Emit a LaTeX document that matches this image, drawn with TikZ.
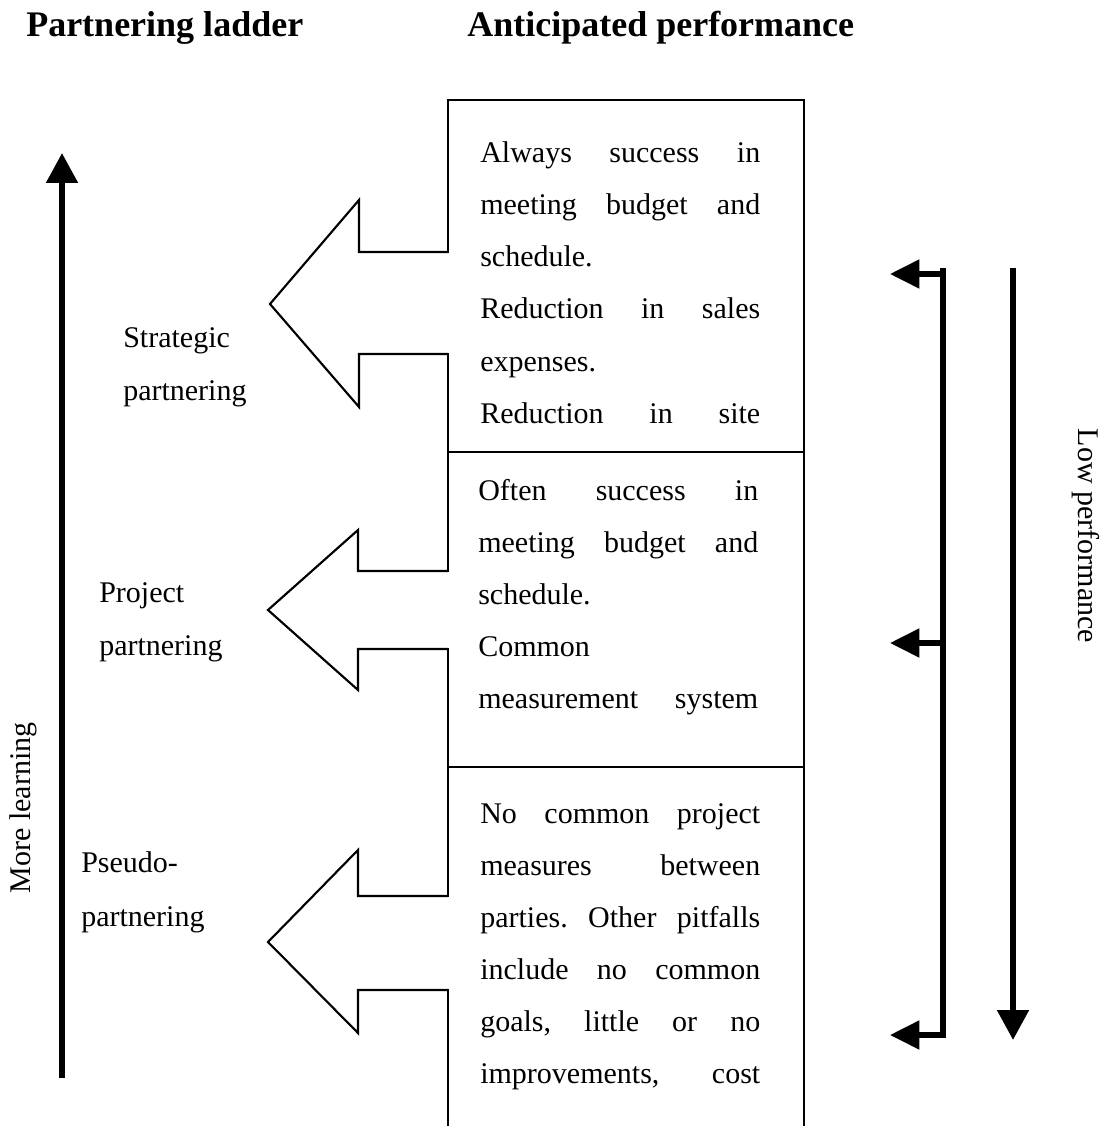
\documentclass[tikz,border=0pt]{standalone}
\usepackage{fontspec}
\setmainfont{Liberation Serif}
\usetikzlibrary{arrows.meta}
\frenchspacing
% one justified line of a fixed measure
\newcommand{\fullline}[1]{\makebox[210pt][s]{#1}}
\tikzset{
  bodytext/.style={font=\fontsize{22.5pt}{27pt}\selectfont, inner sep=0pt, anchor=base west},
  headtext/.style={font=\fontsize{27pt}{32pt}\selectfont\bfseries, inner sep=0pt, anchor=base west},
  sidetext/.style={font=\fontsize{22.5pt}{27pt}\selectfont, inner sep=0pt},
  frameline/.style={line width=1.6pt, line cap=rect},
  hollowarrow/.style={line width=1.6pt, line join=miter},
  heavyline/.style={line width=4.5pt},
  bigtip/.style={-{Triangle[length=22.5pt,width=23pt]}},
  smalltip/.style={line width=3.8pt, -{Triangle[length=22pt,width=21pt]}},
}
\begin{document}
\begin{tikzpicture}[x=0.75pt, y=-0.75pt]
\useasboundingbox (0,0) rectangle (1115,1126);
\clip (0,0) rectangle (1115,1126);

% headings
\node[headtext] (hladder) at (26,37) {Partnering ladder};
\node[headtext] (hperf) at (467,37) {Anticipated performance};

% column of performance boxes (left edge left open where the arrows enter)
\coordinate (bTL) at (448,100);
\coordinate (bTR) at (804,100);
\coordinate (bBR) at (804,1140);
\draw[frameline] (bTL) -- (bTR) -- (bBR);
\draw[frameline] (448,452) -- (804,452);
\draw[frameline] (448,767) -- (804,767);
\draw[frameline] (bTL) -- (448,252);
\draw[frameline] (448,354) -- (448,571);
\draw[frameline] (448,649) -- (448,896);
\draw[frameline] (448,990) -- (448,1140);

% hollow arrows from the boxes to the ladder rungs
\draw[hollowarrow] (448,252) -- (359,252) -- (359,200) -- (270,304) -- (359,407) -- (359,354) -- (448,354);
\draw[hollowarrow] (448,571) -- (358,571) -- (358,530) -- (268,610) -- (358,690) -- (358,649) -- (448,649);
\draw[hollowarrow] (448,896) -- (358,896) -- (358,850) -- (268,942) -- (358,1033) -- (358,990) -- (448,990);

% box 1
\node[bodytext] (a1) at (480,163) {\fullline{Always success in}};
\node[bodytext] (a2) at (480,215) {\fullline{meeting budget and}};
\node[bodytext] (a3) at (480,267) {schedule.};
\node[bodytext] (a4) at (480,319) {\fullline{Reduction in sales}};
\node[bodytext] (a5) at (480,371) {expenses.};
\node[bodytext] (a6) at (480,423) {\fullline{Reduction in site}};

% box 2
\node[bodytext] (b1) at (478,500) {\fullline{Often success in}};
\node[bodytext] (b2) at (478,552) {\fullline{meeting budget and}};
\node[bodytext] (b3) at (478,604) {schedule.};
\node[bodytext] (b4) at (478,656) {Common};
\node[bodytext] (b5) at (478,708) {\fullline{measurement system}};

% box 3
\node[bodytext] (c1) at (480,823) {\fullline{No common project}};
\node[bodytext] (c2) at (480,875) {\fullline{measures between}};
\node[bodytext] (c3) at (480,927) {\fullline{parties. Other pitfalls}};
\node[bodytext] (c4) at (480,979) {\fullline{include no common}};
\node[bodytext] (c5) at (480,1031) {\fullline{goals, little or no}};
\node[bodytext] (c6) at (480,1083) {\fullline{improvements, cost}};

% ladder rungs
\node[bodytext] (s1) at (123,348) {Strategic};
\node[bodytext] (s2) at (123,400) {partnering};
\node[bodytext] (p1) at (99,602) {Project};
\node[bodytext] (p2) at (99,655) {partnering};
\node[bodytext] (q1) at (81,872) {Pseudo-};
\node[bodytext] (q2) at (81,926) {partnering};

% learning axis
\coordinate (lBot) at (62,1078);
\coordinate (lTop) at (62,153);
\draw[heavyline, bigtip] (lBot) -- (lTop);
\node[sidetext, rotate=90] (learn) at (23,808) {More learning};

% performance bracket
\coordinate (brTop) at (943,268);
\coordinate (brBot) at (943,1037);
\coordinate (tA) at (890,274);
\coordinate (tB) at (890,643);
\coordinate (tC) at (890,1035);
\draw[heavyline] (brTop) -- (brBot);
\draw[smalltip] (brTop |- tA) -- (tA);
\draw[smalltip] (brTop |- tB) -- (tB);
\draw[smalltip] ([xshift=2.25pt]brTop |- tC) -- (tC);

% performance axis
\coordinate (pTop) at (1013,268);
\coordinate (pBot) at (1013,1040);
\draw[heavyline, bigtip] (pTop) -- (pBot);
\node[sidetext, rotate=-90] (low) at (1086,536) {Low performance};
\end{tikzpicture}
\end{document}
